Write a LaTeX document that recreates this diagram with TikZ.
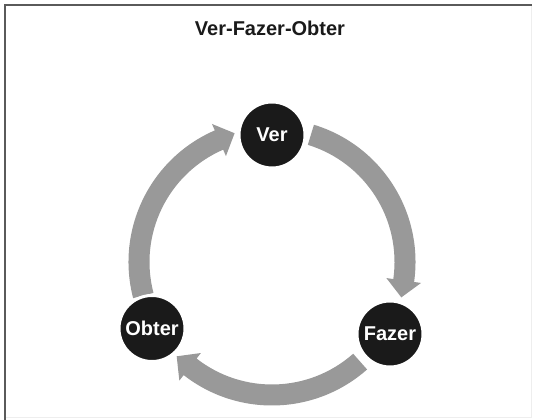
\documentclass[tikz,border=0pt]{standalone}
\usepackage{fontspec}
\setmainfont{Liberation Sans}
\definecolor{arrowgray}{HTML}{999999}
\definecolor{disc}{HTML}{1A1A1A}
\definecolor{frameline}{HTML}{5A5A5A}
\definecolor{framelight}{HTML}{EEEEEE}
\begin{document}
\begin{tikzpicture}[x=1pt,y=1pt,
  stage/.style={circle, fill=disc, draw=white, line width=3pt, minimum size=66pt,
    inner sep=0pt, text=white, font=\fontsize{20}{24}\selectfont\bfseries},
  ringarrow/.style={fill=arrowgray},
  titletext/.style={font=\fontsize{20}{24}\selectfont\bfseries, anchor=base, text=disc}]
\useasboundingbox (0,0) rectangle (536,420);
\fill[white] (0,0) rectangle (536,420);
\draw[framelight, line width=1pt] (531,415) -- (531,2) -- (5,2);
\draw[frameline, line width=2pt] (5,0) -- (5,415) -- (532,415);

\node[titletext] (title) at (270,384) {Ver-Fazer-Obter};

\coordinate (c) at (272,158);

% Ver -> Fazer
\fill[ringarrow] ([shift={(73:122.5pt)}]c) arc[start angle=73, end angle=-8, radius=122.5pt]
  -- ([shift={(-8:115.5pt)}]c) -- ([shift={(-15.3:134.1pt)}]c) -- ([shift={(-8:150.5pt)}]c)
  -- ([shift={(-8:143.5pt)}]c) arc[start angle=-8, end angle=73, radius=143.5pt] -- cycle;
% Fazer -> Obter
\fill[ringarrow] ([shift={(-48.5:122.5pt)}]c) arc[start angle=-48.5, end angle=-128, radius=122.5pt]
  -- ([shift={(-128:115.5pt)}]c) -- ([shift={(-135.3:134.1pt)}]c) -- ([shift={(-128:150.5pt)}]c)
  -- ([shift={(-128:143.5pt)}]c) arc[start angle=-128, end angle=-48.5, radius=143.5pt] -- cycle;
% Obter -> Ver
\fill[ringarrow] ([shift={(194.6:122.5pt)}]c) arc[start angle=194.6, end angle=113.5, radius=122.5pt]
  -- ([shift={(113.5:115.5pt)}]c) -- ([shift={(106.2:134.1pt)}]c) -- ([shift={(113.5:150.5pt)}]c)
  -- ([shift={(113.5:143.5pt)}]c) arc[start angle=113.5, end angle=194.6, radius=143.5pt] -- cycle;

\node[stage] (ver) at (272,285) {Ver};
\node[stage] (fazer) at (390,86) {Fazer};
\node[stage] (obter) at (152,91.5) {Obter};
\end{tikzpicture}
\end{document}
